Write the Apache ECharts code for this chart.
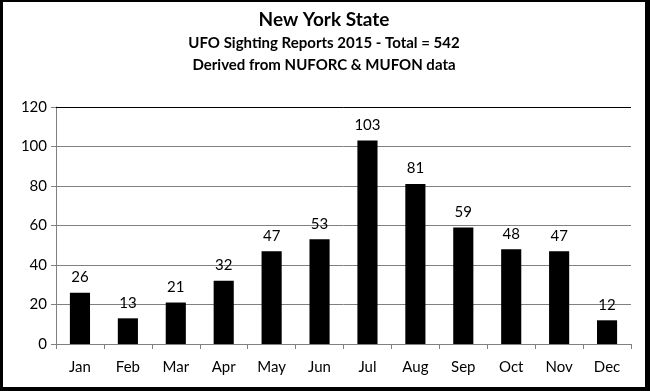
<!DOCTYPE html>
<html><head><meta charset="utf-8">
<script src="https://cdn.jsdelivr.net/npm/echarts@6/dist/echarts.min.js"></script>
<style>
html,body{margin:0;padding:0;background:#fff;}
#frame{position:absolute;left:0;top:0;width:642px;height:385px;border-style:solid;border-color:#000;border-width:2px 5px 4px 3px;background:#fff;}
#c{width:642px;height:385px;}
</style></head>
<body><div id="frame"><div id="c"></div></div>
<script>
const categories = ['Jan','Feb','Mar','Apr','May','Jun','Jul','Aug','Sep','Oct','Nov','Dec'];
const values = [26,13,21,32,47,53,103,81,59,48,47,12];
const titleLines = ['New York State','UFO Sighting Reports 2015 - Total = 542','Derived from NUFORC & MUFON data'];
const yTicks = {min:0, max:120, interval:20};
const FONT = 'Lato, "Open Sans", sans-serif';
const chart = echarts.init(document.getElementById('c'));
chart.setOption({
  animation:false,
  title:[
    {text:titleLines[0], left:'center', top:3, textStyle:{fontFamily:FONT,fontSize:19,fontWeight:'bold',color:'#000'}},
    {text:titleLines[1], left:'center', top:29, textStyle:{fontFamily:FONT,fontSize:15,fontWeight:'bold',color:'#000'}},
    {text:titleLines[2], left:'center', top:51, textStyle:{fontFamily:FONT,fontSize:15,fontWeight:'bold',color:'#000'}}
  ],
  grid:{left:53, right:14, top:105, bottom:43},
  xAxis:{type:'category', data:categories,
    axisLine:{lineStyle:{color:'#808080',width:1}},
    axisTick:{show:true, length:5, lineStyle:{color:'#808080'}},
    axisLabel:{fontFamily:FONT,fontSize:15,color:'#000',margin:16}},
  yAxis:{type:'value', min:yTicks.min, max:yTicks.max, interval:yTicks.interval,
    axisLine:{show:true,lineStyle:{color:'#808080'}},
    axisTick:{show:true,length:5,lineStyle:{color:'#808080'}},
    splitLine:{lineStyle:{color:'#808080',width:1}},
    axisLabel:{fontFamily:FONT,fontSize:15,color:'#000',margin:9}},
  series:[{type:'bar', data:values, barWidth:'42%',
    itemStyle:{color:'#000'},
    label:{show:true, position:'top', distance:8, fontFamily:FONT, fontSize:15, color:'#000'},
    markLine:{silent:true, symbol:'none', label:{show:false}, lineStyle:{color:'#000',type:'solid',width:1},
      data:[{yAxis:yTicks.max}]}
  }]
});
</script></body></html>
